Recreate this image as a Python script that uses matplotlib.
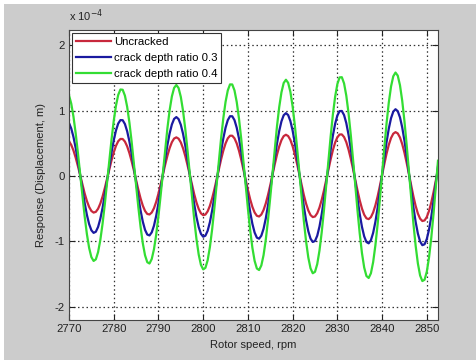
import numpy as np
import matplotlib
matplotlib.use("Agg")
import matplotlib.pyplot as plt
from matplotlib.patches import Rectangle

plt.rcParams['font.family'] = ['Liberation Sans', 'DejaVu Sans']

# Rotor speed samples (rpm), 0.5 rpm spacing from 2770 to 2852.5
rpm = np.arange(2770.0, 2852.51, 0.5)

# Response values in units of 1e-4 m
uncracked = [
    0.530, 0.475, 0.389, 0.278, 0.149, 0.010, -0.132, -0.266, -0.382, -0.473,
    -0.534, -0.559, -0.548, -0.501, -0.422, -0.315, -0.187, -0.047, 0.097, 0.237,
    0.360, 0.460, 0.531, 0.566, 0.565, 0.526, 0.453, 0.351, 0.226, 0.086,
    -0.062, -0.209, -0.342, -0.453, -0.534, -0.580, -0.588, -0.558, -0.492, -0.394,
    -0.269, -0.127, 0.023, 0.172, 0.309, 0.426, 0.516, 0.572, 0.590, 0.570,
    0.513, 0.422, 0.304, 0.165, 0.016, -0.136, -0.279, -0.405, -0.504, -0.570,
    -0.599, -0.589, -0.540, -0.456, -0.342, -0.206, -0.056, 0.100, 0.252, 0.387,
    0.497, 0.575, 0.615, 0.615, 0.575, 0.497, 0.387, 0.251, 0.099, -0.059,
    -0.214, -0.354, -0.472, -0.558, -0.608, -0.619, -0.589, -0.520, -0.418, -0.288,
    -0.140, 0.019, 0.178, 0.325, 0.451, 0.548, 0.609, 0.630, 0.610, 0.550,
    0.454, 0.329, 0.182, 0.023, -0.137, -0.289, -0.421, -0.526, -0.597, -0.628,
    -0.619, -0.569, -0.482, -0.364, -0.222, -0.065, 0.098, 0.255, 0.395, 0.510,
    0.591, 0.634, 0.635, 0.595, 0.516, 0.403, 0.264, 0.108, -0.057, -0.222,
    -0.372, -0.498, -0.592, -0.647, -0.659, -0.629, -0.557, -0.449, -0.312, -0.154,
    0.014, 0.183, 0.341, 0.476, 0.580, 0.646, 0.670, 0.650, 0.588, 0.487,
    0.355, 0.199, 0.031, -0.144, -0.311, -0.457, -0.573, -0.652, -0.688, -0.679,
    -0.626, -0.532, -0.404, -0.248, -0.077, 0.099,
]

crack_03 = [
    0.809, 0.726, 0.595, 0.425, 0.227, 0.015, -0.205, -0.413, -0.594, -0.735,
    -0.829, -0.869, -0.852, -0.779, -0.655, -0.489, -0.291, -0.073, 0.147, 0.357,
    0.544, 0.695, 0.801, 0.854, 0.852, 0.794, 0.684, 0.530, 0.341, 0.130,
    -0.096, -0.322, -0.527, -0.698, -0.823, -0.895, -0.908, -0.861, -0.759, -0.607,
    -0.415, -0.196, 0.035, 0.262, 0.472, 0.651, 0.787, 0.872, 0.900, 0.869,
    0.782, 0.644, 0.463, 0.252, 0.025, -0.210, -0.433, -0.628, -0.781, -0.884,
    -0.928, -0.912, -0.837, -0.706, -0.530, -0.319, -0.088, 0.148, 0.374, 0.575,
    0.738, 0.853, 0.913, 0.912, 0.853, 0.737, 0.574, 0.372, 0.147, -0.092,
    -0.331, -0.549, -0.731, -0.864, -0.942, -0.958, -0.912, -0.806, -0.647, -0.446,
    -0.216, 0.028, 0.271, 0.495, 0.688, 0.835, 0.928, 0.960, 0.930, 0.838,
    0.693, 0.501, 0.277, 0.035, -0.220, -0.463, -0.675, -0.843, -0.957, -1.008,
    -0.993, -0.913, -0.773, -0.583, -0.355, -0.104, 0.153, 0.398, 0.618, 0.797,
    0.924, 0.991, 0.993, 0.930, 0.807, 0.630, 0.413, 0.169, -0.089, -0.347,
    -0.581, -0.778, -0.923, -1.009, -1.029, -0.981, -0.869, -0.701, -0.487, -0.240,
    0.021, 0.279, 0.518, 0.724, 0.883, 0.983, 1.020, 0.990, 0.895, 0.742,
    0.540, 0.303, 0.047, -0.221, -0.477, -0.701, -0.880, -1.001, -1.057, -1.043,
    -0.962, -0.817, -0.620, -0.382, -0.119, 0.151,
]

crack_04 = [
    1.233, 1.106, 0.906, 0.648, 0.347, 0.023, -0.307, -0.617, -0.887, -1.099,
    -1.239, -1.298, -1.273, -1.164, -0.979, -0.731, -0.435, -0.110, 0.227, 0.552,
    0.841, 1.074, 1.238, 1.321, 1.317, 1.228, 1.058, 0.819, 0.527, 0.200,
    -0.141, -0.474, -0.776, -1.028, -1.212, -1.317, -1.337, -1.268, -1.118, -0.894,
    -0.611, -0.289, 0.054, 0.404, 0.728, 1.005, 1.215, 1.346, 1.390, 1.343,
    1.208, 0.994, 0.715, 0.390, 0.039, -0.324, -0.666, -0.965, -1.201, -1.359,
    -1.427, -1.403, -1.287, -1.086, -0.816, -0.491, -0.135, 0.227, 0.573, 0.881,
    1.131, 1.307, 1.399, 1.398, 1.307, 1.130, 0.879, 0.571, 0.225, -0.138,
    -0.497, -0.823, -1.096, -1.297, -1.413, -1.437, -1.367, -1.209, -0.971, -0.669,
    -0.324, 0.043, 0.414, 0.759, 1.053, 1.278, 1.421, 1.470, 1.423, 1.284,
    1.060, 0.768, 0.425, 0.054, -0.324, -0.682, -0.996, -1.244, -1.411, -1.486,
    -1.464, -1.346, -1.140, -0.860, -0.524, -0.153, 0.232, 0.605, 0.939, 1.211,
    1.404, 1.506, 1.509, 1.414, 1.226, 0.958, 0.628, 0.256, -0.135, -0.525,
    -0.880, -1.178, -1.399, -1.528, -1.558, -1.486, -1.316, -1.061, -0.737, -0.364,
    0.033, 0.432, 0.803, 1.122, 1.367, 1.523, 1.580, 1.533, 1.386, 1.149,
    0.837, 0.470, 0.072, -0.336, -0.725, -1.065, -1.336, -1.520, -1.605, -1.585,
    -1.461, -1.241, -0.942, -0.580, -0.180, 0.233,
]

labels = ["Uncracked", "crack depth ratio 0.3", "crack depth ratio 0.4"]
colors = ["#c8283c", "#1a1aa0", "#33dd33"]
x_ticks = [2770, 2780, 2790, 2800, 2810, 2820, 2830, 2840, 2850]
y_ticks = [-2, -1, 0, 1, 2]

W, H = 477, 360
fig = plt.figure(figsize=(W / 100, H / 100), dpi=100, facecolor="white")
fig.patches.append(Rectangle((4 / W, 0), 1 - 4 / W, 1 - 4 / H, transform=fig.transFigure,
                             facecolor="#cccccc", edgecolor="none", zorder=-10))

ax = fig.add_axes([69 / W, 1 - 320 / H, (438 - 69) / W, (320 - 30) / H])
ax.set_facecolor("white")

for ys, lab, col in zip([uncracked, crack_03, crack_04], labels, colors):
    ax.plot(rpm, ys, color=col, lw=1.6, label=lab)

ax.set_xlim(2770, 2852.5)
ax.set_ylim(-2.2, 2.23)
ax.set_xticks(x_ticks)
ax.set_yticks(y_ticks)
ax.set_xticklabels([str(t) for t in x_ticks])
ax.set_yticklabels([str(t) for t in y_ticks])
ax.grid(True, color="#333333", linestyle=(0, (1.2, 2.2)), linewidth=0.9)
ax.tick_params(direction="in", top=True, right=True, length=4, width=0.8,
               labelsize=8.2, colors="#222222", pad=3)
for s in ax.spines.values():
    s.set_color("#444444")
    s.set_linewidth(0.8)

ax.set_xlabel("Rotor speed, rpm", fontsize=8, color="#222222", labelpad=4)
ax.set_ylabel("Response (Displacement, m)", fontsize=8, color="#222222", labelpad=6)
ax.text(0.0, 1.02, r"x 10$^{-4}$", transform=ax.transAxes, fontsize=8,
        color="#222222", ha="left", va="bottom")

leg = ax.legend(loc="upper left", fontsize=8.2, frameon=True, fancybox=False,
                edgecolor="#333333", framealpha=1, borderaxespad=0.3,
                handlelength=3.0, handletextpad=0.3, labelspacing=0.5,
                borderpad=0.35)
leg.get_frame().set_linewidth(0.8)

fig.savefig("out.png", dpi=100, facecolor=fig.get_facecolor())
